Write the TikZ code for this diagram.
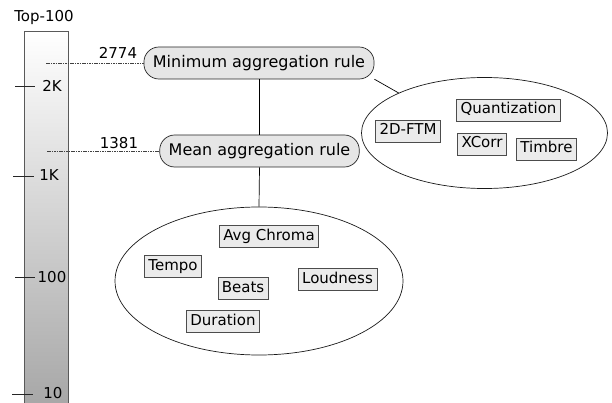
\documentclass[tikz,border=0pt]{standalone}
\usepackage{fontspec}
\setmainfont{DejaVu Sans}
\usetikzlibrary{shapes.geometric}
\definecolor{boxfill}{HTML}{EBEBEB}
\definecolor{rulefill}{HTML}{E6E6E6}
\begin{document}
\begin{tikzpicture}[x=1pt,y=-1pt,
  rulenode/.style={draw=black!85,fill=rulefill,rounded corners=15pt,minimum height=32pt,inner xsep=9pt,font=\fontsize{16}{18}\selectfont,line width=0.7pt},
  feat/.style={draw=black!70,fill=boxfill,inner xsep=4pt,inner ysep=4pt,text height=11pt,text depth=3pt,font=\fontsize{15}{17}\selectfont,line width=0.6pt},
  group/.style={draw=black!90,ellipse,inner sep=0pt,line width=0.7pt},
  lbl/.style={font=\fontsize{15}{17}\selectfont,inner sep=0pt},
  tick/.style={draw=black!85,line width=0.7pt},
  guide/.style={draw=black!75,dash pattern=on 1.6pt off 0.8pt,line width=0.6pt},
  conn/.style={draw=black,line width=0.7pt}]
\useasboundingbox (0,0) rectangle (612,403);
% scale bar
\shade[top color=white,bottom color=black!35] (24,31) rectangle (68,410);
\draw[black!65,line width=0.6pt] (24,410) -- (24,31) -- (68,31) -- (68,410);
\node[lbl] (top) at (44,17) {Top-100};
% ticks
\coordinate (t2a) at (15,86); \coordinate (t2b) at (35,86);
\coordinate (t1a) at (13,176); \coordinate (t1b) at (34,176);
\coordinate (t0a) at (15,277); \coordinate (t0b) at (35,277);
\coordinate (tza) at (12,394); \coordinate (tzb) at (33,394);
\draw[tick] (t2a) -- (t2b);
\draw[tick] (t1a) -- (t1b);
\draw[tick] (t0a) -- (t0b);
\draw[tick] (tza) -- (tzb);
\node[lbl] (l2k) at (52,86) {2K};
\node[lbl] (l1k) at (49,175) {1K};
\node[lbl] (l100) at (52,277) {100};
\node[lbl] (l10) at (53,393) {10};
% rule nodes
\node[rulenode] (min) at (259,63) {Minimum aggregation rule};
\node[rulenode] (mean) at (259.5,151) {Mean aggregation rule};
% guides
\coordinate (g1) at (46,63);
\coordinate (g2) at (47,151);
\draw[guide] (g1) -- (min.west);
\draw[guide] (g2) -- (mean.west);
\node[lbl] (n2774) at (118,53) {2774};
\node[lbl] (n1381) at (119,143) {1381};
% ellipses
\node[group,minimum width=246pt,minimum height=111pt] (rell) at (484.5,133) {};
\node[group,minimum width=288pt,minimum height=148pt] (bell) at (259,281) {};
% connectors
\draw[conn] (min.south -| mean.south) -- (mean.north);
\draw[conn] (mean.south) -- (bell.north);
\draw[conn] (min.-8) -- (rell.155);
% features right
\node[feat] (quant) at (508.5,110) {Quantization};
\node[feat] (ftm) at (408,131) {2D-FTM};
\node[feat] (xcorr) at (482,144) {XCorr};
\node[feat] (timbre) at (546.5,149) {Timbre};
% features bottom
\node[feat] (chroma) at (269,236.5) {Avg Chroma};
\node[feat] (tempo) at (173,266.5) {Tempo};
\node[feat] (beats) at (243,288) {Beats};
\node[feat] (loud) at (337.5,279) {Loudness};
\node[feat] (dur) at (223,321) {Duration};
\end{tikzpicture}
\end{document}
